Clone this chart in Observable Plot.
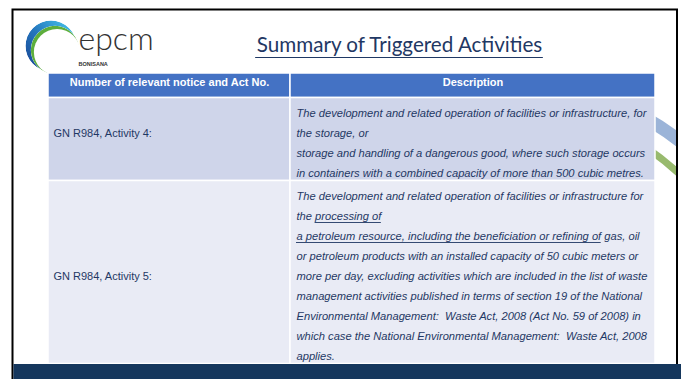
<!DOCTYPE html>
<html><head><meta charset="utf-8">
<script src="https://cdn.jsdelivr.net/npm/d3@7"></script>
<script src="https://cdn.jsdelivr.net/npm/@observablehq/plot@0.6"></script>
<style>html,body{margin:0;padding:0;background:#fff;overflow:hidden}</style>
</head><body><div id="chart"></div>
<script>
// ---- content ----
const title = "Summary of Triggered Activities";
const brandName = "epcm";
const brandSub = "BONISANA";
const columns = ["Number of relevant notice and Act No.", "Description"];
const notices = ["GN R984, Activity 4:", "GN R984, Activity 5:"];
const descriptionLines = [
  [
    "The development and related operation of facilities or infrastructure, for",
    "the storage, or",
    "storage and handling of a dangerous good, where such storage occurs",
    "in containers with a combined capacity of more than 500 cubic metres."
  ],
  [
    "The development and related operation of facilities or infrastructure for",
    "the processing of",
    "a petroleum resource, including the beneficiation or refining of gas, oil",
    "or petroleum products with an installed capacity of 50 cubic meters or",
    "more per day, excluding activities which are included in the list of waste",
    "management activities published in terms of section 19 of the National",
    "Environmental Management:\u00a0 Waste Act, 2008 (Act No. 59 of 2008) in",
    "which case the National Environmental Management:\u00a0 Waste Act, 2008",
    "applies."
  ]
];
const underlinedRows = [1, 1];
const underlinedLines = [1, 2];
const underlinedPrefixes = ["the ", ""];
const underlinedTexts = ["processing of", "a petroleum resource, including the beneficiation or refining of"];

// ---- layout & style ----
const W = 681, H = 379;
const bodyFont = "'Liberation Sans', Arial, sans-serif";
const titleFont = "Lato, 'Open Sans', sans-serif";
const navy = "#1F3864";
const headerBlue = "#4472C4";
const bandColors = ["#CFD5EA", "#E9EBF5"];
const tableLeft = 48, colSplit = 290, tableRight = 655;
const headerTop = 73, headerBottom = 97.5;
const lineH = 20, rowPad = 3, firstLine = 15;
const fs = 11, fsItalic = 11.15;

const ctx = document.createElement("canvas").getContext("2d");
function textW(s, font) { ctx.font = font; return ctx.measureText(s).width; }

const rows = [];
let rowTop = headerBottom;
notices.forEach((n, i) => {
  const lines = descriptionLines[i];
  const h = lines.length * lineH + rowPad;
  rows.push({i, notice: n, lines, top: rowTop, bottom: rowTop + h});
  rowTop += h;
});

const cells = [];
rows.forEach(r => {
  cells.push({x1: tableLeft, x2: colSplit, y1: r.top, y2: r.bottom, fill: bandColors[r.i % 2]});
  cells.push({x1: colSplit, x2: tableRight, y1: r.top, y2: r.bottom, fill: bandColors[r.i % 2]});
});
const headerCells = [
  {x1: tableLeft, x2: colSplit, label: columns[0]},
  {x1: colSplit, x2: tableRight, label: columns[1]}
];
const descText = rows.flatMap(r => r.lines.map((t, j) => ({text: t, x: colSplit + 6, y: r.top + firstLine + j * lineH})));
const noticeText = rows.map(r => ({text: r.notice, x: tableLeft + 5, y: r.top + firstLine + Math.floor((r.lines.length - 1) / 2) * lineH}));

const italicFont = `italic ${fsItalic}px 'Liberation Sans'`;
const underlines = underlinedTexts.map((t, k) => {
  const r = rows[underlinedRows[k]];
  const x1 = colSplit + 6 + textW(underlinedPrefixes[k], italicFont);
  return {x1, x2: x1 + textW(t, italicFont), y: r.top + firstLine + underlinedLines[k] * lineH + 6.5};
});

// title sized to its measured span in the reference
const titleCenter = 399, titleSpan = 288;
const titleSize = 23 * titleSpan / textW(title, `23px Lato`);
const titleW = textW(title, `${titleSize}px Lato`);

// decorative logo & background swooshes
function decor(index, scales) {
  const sx = scales && scales.x ? scales.x : (v => v);
  const sy = scales && scales.y ? scales.y : (v => v);
  const P = (x, y) => `${sx(x)},${sy(y)}`;
  const g = d3.create("svg:g");
  const defs = g.append("defs");
  const lg = defs.append("linearGradient").attr("id", "logoBlue").attr("gradientUnits", "userSpaceOnUse")
    .attr("x1", sx(28)).attr("y1", sy(66)).attr("x2", sx(74)).attr("y2", sy(24));
  lg.append("stop").attr("offset", "0").attr("stop-color", "#1A4A98");
  lg.append("stop").attr("offset", "0.45").attr("stop-color", "#2475BD");
  lg.append("stop").attr("offset", "1").attr("stop-color", "#45C4EA");
  defs.append("clipPath").attr("id", "frameClip").append("rect")
    .attr("x", sx(12)).attr("y", sy(9)).attr("width", sx(677) - sx(12)).attr("height", sy(379) - sy(9));
  // crescents as differences of offset circles
  const A = {cx: 51, cy: 46, r: 25.5}, B = {cx: 55, cy: 50, r: 24.2}, C = {cx: 57.1, cy: 52.1, r: 23.2};
  const circ = (sel, c, fill) => sel.append("circle").attr("cx", sx(c.cx)).attr("cy", sy(c.cy)).attr("r", c.r).attr("fill", fill);
  const mBlue = defs.append("mask").attr("id", "mBlue");
  circ(mBlue, A, "white"); circ(mBlue, B, "black");
  const mGreen = defs.append("mask").attr("id", "mGreen");
  circ(mGreen, B, "white"); circ(mGreen, C, "black");
  const sw = g.append("g").attr("clip-path", "url(#frameClip)").attr("fill", "none");
  sw.append("path").attr("d", `M${P(560, 96)} Q${P(630, 94)} ${P(700, 158)}`).attr("stroke", "#9BB4D8").attr("stroke-width", 13);
  sw.append("path").attr("d", `M${P(560, 120)} Q${P(630, 118)} ${P(700, 195)}`).attr("stroke", "#98BA6E").attr("stroke-width", 7);
  circ(g, A, "url(#logoBlue)").attr("mask", "url(#mBlue)");
  circ(g, B, "#5DAE3C").attr("mask", "url(#mGreen)");
  return g.node();
}

const chart = Plot.plot({
  width: W, height: H, margin: 0,
  x: {domain: [0, W], range: [0, W], axis: null},
  y: {domain: [0, H], range: [0, H], axis: null},
  style: {background: "white"},
  marks: [
    decor,
    // header
    Plot.rect(headerCells, {x1: "x1", x2: "x2", y1: headerTop, y2: headerBottom, fill: headerBlue, stroke: "white", strokeWidth: 1.5}),
    Plot.text(headerCells, {x: d => (d.x1 + d.x2) / 2, y: headerTop + 9, text: "label", fill: "white",
      fontFamily: bodyFont, fontSize: fs, fontWeight: "bold"}),
    // body cells
    Plot.rect(cells, {x1: "x1", x2: "x2", y1: "y1", y2: "y2", fill: "fill", stroke: "white", strokeWidth: 1.5}),
    Plot.text(noticeText, {x: "x", y: "y", text: "text", textAnchor: "start", fill: navy, fontFamily: bodyFont, fontSize: fs}),
    Plot.text(descText, {x: "x", y: "y", text: "text", textAnchor: "start", fill: navy, fontFamily: bodyFont, fontSize: fsItalic, fontStyle: "italic"}),
    Plot.ruleY(underlines, {y: "y", x1: "x1", x2: "x2", stroke: navy, strokeWidth: 0.9}),
    // title
    Plot.text([title], {x: titleCenter, y: 45, text: d => d, fill: navy, fontFamily: titleFont, fontSize: titleSize}),
    Plot.ruleY([57], {x1: titleCenter - titleW / 2, x2: titleCenter + titleW / 2, stroke: navy, strokeWidth: 1.2}),
    // brand text
    Plot.text([brandName], {x: 78, y: 49, text: d => d, textAnchor: "start", lineAnchor: "bottom", fill: "#333", fontFamily: titleFont, fontSize: 32, fontWeight: 300}),
    Plot.text([brandSub], {x: 78, y: 65, text: d => d, textAnchor: "start", lineAnchor: "bottom", fill: "#333", fontFamily: bodyFont, fontSize: 5.5, fontWeight: "bold"}),
    // frame and footer bar
    Plot.rect([0], {x1: 12.5, x2: 677, y1: 9.5, y2: 400, fill: "none", stroke: "black", strokeWidth: 2}),
    Plot.rect([0], {x1: 13.5, x2: W, y1: 364, y2: H, fill: "#15375D"})
  ]
});
document.getElementById("chart").appendChild(chart);
</script>
</body></html>
